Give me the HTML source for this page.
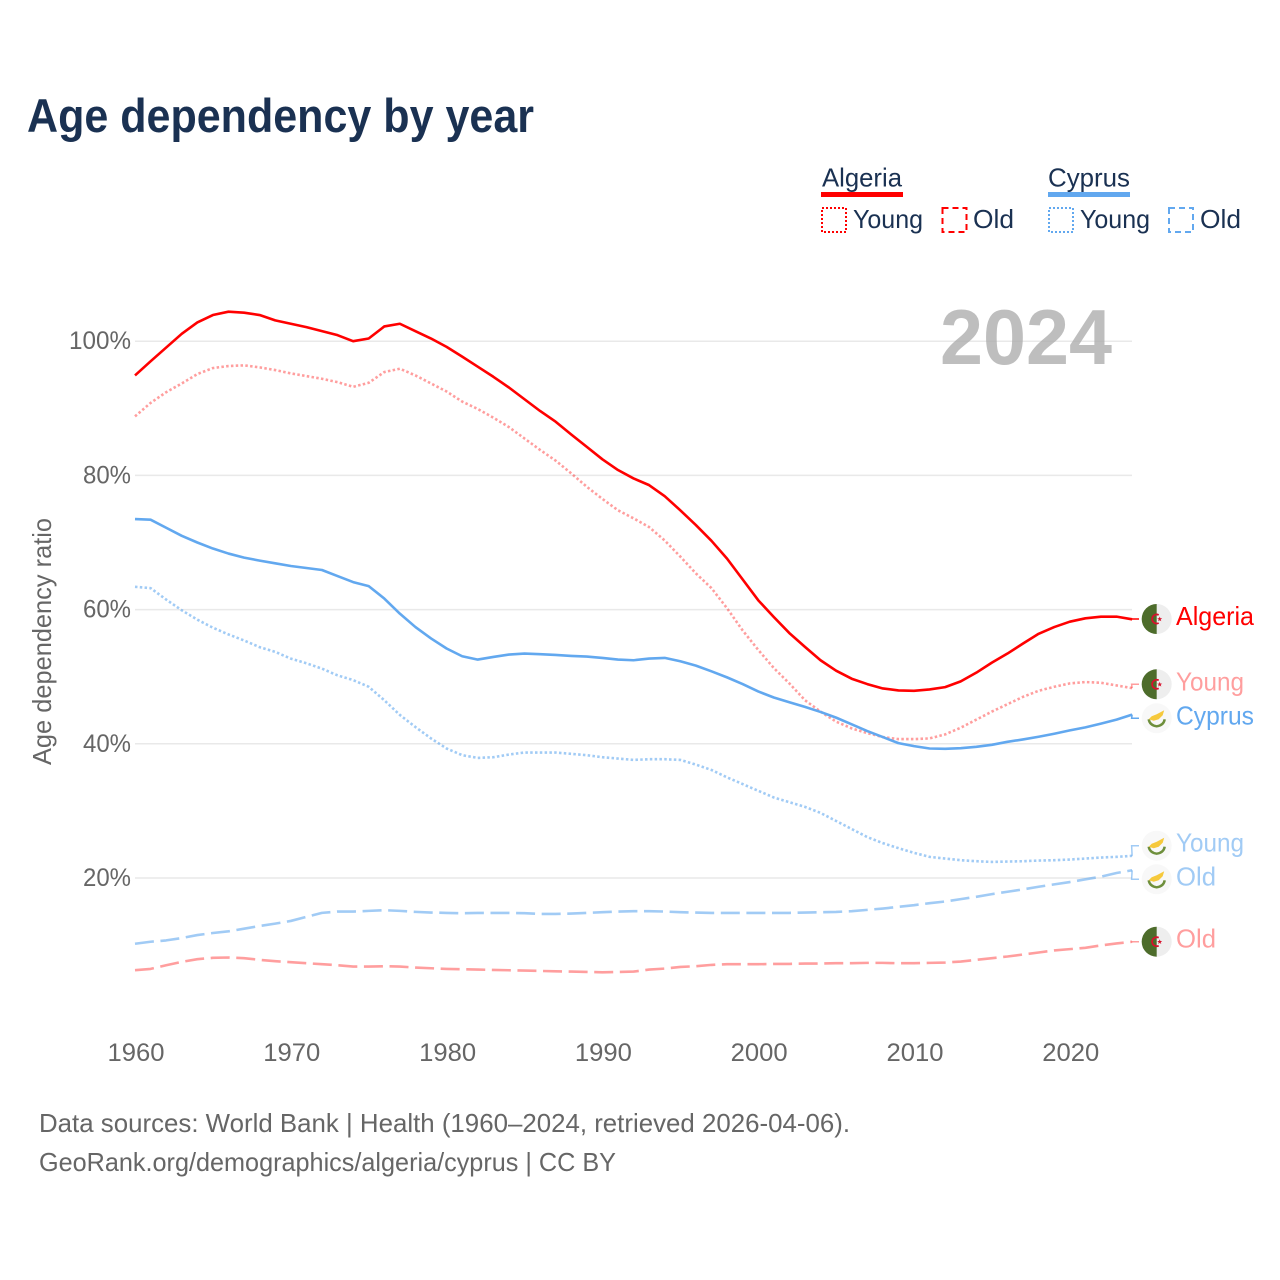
<!DOCTYPE html>
<html lang="en">
<head>
<meta charset="utf-8">
<title>Age dependency by year</title>
<style>
html,body{margin:0;padding:0;background:#fff;}
svg{display:block;}
text{font-family:"Liberation Sans",sans-serif;}
</style>
</head>
<body>
<svg id="chart" xmlns="http://www.w3.org/2000/svg" width="1280" height="1280" viewBox="0 0 1280 1280">
  <rect x="0" y="0" width="1280" height="1280" fill="#fff"/>
  <text x="27" y="132" font-size="47" font-weight="bold" fill="#1a3152" textLength="507" lengthAdjust="spacingAndGlyphs">Age dependency by year</text>

  <g font-size="26" fill="#1a3152">
    <text x="822" y="186.500" textLength="80" lengthAdjust="spacingAndGlyphs">Algeria</text>
    <rect x="821" y="192" width="82" height="5" fill="#ff0000"/>
    <rect x="822" y="208" width="24" height="24" fill="none" stroke="#ff0000" stroke-width="2" stroke-dasharray="2 2"/>
    <text x="853" y="228" textLength="70" lengthAdjust="spacingAndGlyphs">Young</text>
    <rect x="942.500" y="208" width="24" height="24" fill="none" stroke="#ff0000" stroke-width="2" stroke-dasharray="6 4"/>
    <text x="973" y="228" textLength="41" lengthAdjust="spacingAndGlyphs">Old</text>
    <text x="1048" y="186.500" textLength="82" lengthAdjust="spacingAndGlyphs">Cyprus</text>
    <rect x="1048" y="192" width="82" height="5" fill="#62a8ef"/>
    <rect x="1049" y="208" width="24" height="24" fill="none" stroke="#62a8ef" stroke-width="2" stroke-dasharray="2 2"/>
    <text x="1080" y="228" textLength="70" lengthAdjust="spacingAndGlyphs">Young</text>
    <rect x="1169" y="208" width="24" height="24" fill="none" stroke="#62a8ef" stroke-width="2" stroke-dasharray="6 4"/>
    <text x="1200" y="228" textLength="41" lengthAdjust="spacingAndGlyphs">Old</text>
  </g>

  <g id="grid"></g>
  <text x="940" y="364" font-size="78" font-weight="bold" fill="#a8a8a8" fill-opacity="0.75" textLength="172" lengthAdjust="spacingAndGlyphs">2024</text>
  <g id="yticks" font-size="25" fill="#666"></g>
  <g id="xticks" font-size="25" fill="#666"></g>
  <text transform="translate(51 641.500) rotate(-90)" text-anchor="middle" font-size="26" fill="#666" textLength="247" lengthAdjust="spacingAndGlyphs">Age dependency ratio</text>
  <g id="series" fill="none" stroke-width="2.600" stroke-linejoin="round"></g>
  <g id="ends" font-size="26"></g>

  <g font-size="26" fill="#666">
    <text x="39" y="1132" textLength="811" lengthAdjust="spacingAndGlyphs">Data sources: World Bank | Health (1960–2024, retrieved 2026-04-06).</text>
    <text x="39" y="1171" textLength="577" lengthAdjust="spacingAndGlyphs">GeoRank.org/demographics/algeria/cyprus | CC BY</text>
  </g>
</svg>
<script>
const startYear = 1960;
const xTickLabels = [1960, 1970, 1980, 1990, 2000, 2010, 2020];
const yTickLabels = [20, 40, 60, 80, 100];
const algeriaTotal = [94.9,97,99.05,101.1,102.8,103.9,104.4,104.25,103.9,103.1,102.6,102.1,101.5,100.9,100,100.4,102.2,102.6,101.5,100.4,99.15,97.7,96.2,94.7,93.1,91.35,89.6,88,86.1,84.25,82.4,80.8,79.55,78.55,76.9,74.8,72.6,70.25,67.6,64.5,61.4,58.9,56.5,54.45,52.45,50.9,49.7,48.9,48.25,47.95,47.9,48.1,48.45,49.3,50.6,52.1,53.45,54.95,56.4,57.4,58.2,58.7,58.95,58.95,58.55];
const algeriaYoung = [88.8,90.8,92.4,93.7,95.1,96,96.3,96.4,96.1,95.7,95.2,94.8,94.4,93.9,93.2,93.8,95.4,95.9,94.9,93.7,92.5,91,89.9,88.6,87.2,85.5,83.8,82.2,80.3,78.3,76.5,74.8,73.6,72.3,70.3,67.9,65.4,63.2,60.2,56.9,54,51.3,49,46.5,44.8,43.3,42.3,41.6,41,40.7,40.7,40.8,41.4,42.4,43.6,44.8,45.9,47,47.9,48.5,49,49.2,49.1,48.7,48.3];
const algeriaOld = [6.26,6.45,7,7.5,7.9,8.1,8.15,8.05,7.8,7.6,7.45,7.3,7.15,7,6.8,6.8,6.85,6.8,6.65,6.55,6.45,6.4,6.35,6.3,6.25,6.2,6.15,6.1,6.05,6,5.95,6,6.05,6.35,6.5,6.75,6.85,7.05,7.15,7.15,7.15,7.2,7.2,7.25,7.25,7.3,7.3,7.35,7.35,7.3,7.3,7.35,7.4,7.55,7.8,8.05,8.3,8.6,8.9,9.2,9.4,9.6,9.95,10.25,10.5];
const cyprusTotal = [73.5,73.4,72.2,71,70,69.1,68.35,67.75,67.3,66.9,66.5,66.2,65.9,65,64.1,63.5,61.65,59.4,57.4,55.7,54.2,53.05,52.55,52.95,53.3,53.45,53.35,53.25,53.1,53,52.8,52.55,52.45,52.7,52.8,52.3,51.65,50.8,49.9,48.9,47.8,46.9,46.2,45.5,44.75,43.9,42.9,41.9,41,40.1,39.65,39.3,39.25,39.35,39.55,39.85,40.3,40.65,41.05,41.5,42,42.45,43,43.6,44.35];
const cyprusYoung = [63.4,63.2,61.5,59.9,58.5,57.3,56.3,55.4,54.4,53.7,52.7,52,51.2,50.2,49.5,48.5,46.5,44.3,42.5,40.8,39.3,38.3,37.9,38,38.4,38.7,38.7,38.7,38.5,38.3,38,37.8,37.6,37.7,37.7,37.6,36.9,36.1,35,34,33,32,31.3,30.6,29.7,28.5,27.3,26.1,25.2,24.45,23.75,23.15,22.9,22.65,22.5,22.4,22.45,22.5,22.6,22.65,22.75,22.9,23.05,23.15,23.3];
const cyprusOld = [10.2,10.5,10.7,11.05,11.5,11.8,12.05,12.45,12.85,13.2,13.6,14.2,14.8,15,15,15.1,15.2,15.1,14.95,14.85,14.8,14.75,14.8,14.8,14.8,14.75,14.65,14.65,14.7,14.8,14.9,15,15.05,15.05,15,14.9,14.85,14.8,14.8,14.8,14.8,14.8,14.8,14.85,14.9,14.95,15.05,15.25,15.45,15.7,15.95,16.25,16.5,16.85,17.2,17.6,17.95,18.3,18.7,19.05,19.4,19.8,20.2,20.75,21.15];

const NS = 'http://www.w3.org/2000/svg';
const xScale = year => 135 + (year - startYear) * 15.58;
const yScale = value => 1012.2 - value * 6.71;

function make(tag, parent) {
  const el = document.createElementNS(NS, tag);
  parent.appendChild(el);
  return el;
}

const gridLayer = document.getElementById('grid');
const yTickLayer = document.getElementById('yticks');
const xTickLayer = document.getElementById('xticks');
const seriesLayer = document.getElementById('series');
const endLayer = document.getElementById('ends');

yTickLabels.forEach(value => {
  const line = make('line', gridLayer);
  
  
  line.setAttribute('x1', 135);
  line.setAttribute('x2', 1132);
  line.setAttribute('y1', yScale(value));
  line.setAttribute('y2', yScale(value));
  line.setAttribute('stroke', '#e9e9e9');
  line.setAttribute('stroke-width', 1.5);
  const label = make('text', yTickLayer);
  
  
  label.setAttribute('x', 131);
  label.setAttribute('y', yScale(value) + 8);
  label.setAttribute('text-anchor', 'end');
  label.setAttribute('textLength', value === 100 ? 62 : 48);
  label.setAttribute('lengthAdjust', 'spacingAndGlyphs');
  label.textContent = value + '%';
});

xTickLabels.forEach(year => {
  const label = make('text', xTickLayer);
  
  
  label.setAttribute('x', xScale(year) + 1);
  label.setAttribute('y', 1061);
  label.setAttribute('text-anchor', 'middle');
  label.setAttribute('textLength', 57);
  label.setAttribute('lengthAdjust', 'spacingAndGlyphs');
  label.textContent = year;
});

function linePath(values) {
  return values.map((v, i) => (i ? 'L' : 'M') + xScale(startYear + i).toFixed(2) + ' ' + yScale(v).toFixed(2)).join(' ');
}

function drawLine(values, color, dash, opacity, name) {
  const path = make('path', seriesLayer);
  
  
  path.setAttribute('d', linePath(values));
  path.setAttribute('stroke', color);
  path.setAttribute('stroke-opacity', opacity);
  if (dash) path.setAttribute('stroke-dasharray', dash);
}

const RED = '#ff0000';
const BLUE = '#62a8ef';
const DOT = '2.5 2.3';
const DASH = '19 6.6';
drawLine(cyprusOld, BLUE, DASH, 0.6, 'cyprus-old-line');
drawLine(algeriaOld, RED, DASH, 0.38, 'algeria-old-line');
drawLine(cyprusYoung, BLUE, DOT, 0.6, 'cyprus-young-line');
drawLine(algeriaYoung, RED, DOT, 0.38, 'algeria-young-line');
drawLine(cyprusTotal, BLUE, '', 1, 'cyprus-total-line');
drawLine(algeriaTotal, RED, '', 1, 'algeria-total-line');

function algeriaFlag(parent, cx, cy) {
  const g = make('g', parent);
  
  
  g.setAttribute('transform', 'translate(' + cx + ' ' + cy + ')');
  const base = make('circle', g);
  base.setAttribute('r', 15);
  base.setAttribute('fill', '#eeeeee');
  const left = make('path', g);
  left.setAttribute('d', 'M0 -15 A15 15 0 0 0 0 15 Z');
  left.setAttribute('fill', '#4d6c2b');
  const crescent = make('path', g);
  crescent.setAttribute('d', 'M2 -4 A4.500 4.500 0 1 0 2 4');
  crescent.setAttribute('fill', 'none');
  crescent.setAttribute('stroke', '#d8102c');
  crescent.setAttribute('stroke-width', 1.8);
  const star = make('path', g);
  star.setAttribute('d', 'M3 -2.500 L3.700 -0.700 L5.500 -0.700 L4 0.500 L4.600 2.300 L3 1.200 L1.400 2.300 L2 0.500 L0.500 -0.700 L2.300 -0.700 Z');
  star.setAttribute('fill', '#d8102c');
}

function cyprusFlag(parent, cx, cy) {
  const g = make('g', parent);
  
  
  g.setAttribute('transform', 'translate(' + cx + ' ' + cy + ')');
  const base = make('circle', g);
  base.setAttribute('r', 15);
  base.setAttribute('fill', '#f8f8f8');
  const branch = make('path', g);
  branch.setAttribute('d', 'M-8 1 Q-7 7 0 8 Q7 7 8 1');
  branch.setAttribute('fill', 'none');
  branch.setAttribute('stroke', '#6e8f3c');
  branch.setAttribute('stroke-width', 2.5);
  const island = make('path', g);
  island.setAttribute('d', 'M-8 1 L-5 -2 L0 -4 L7.500 -8 L6 -3 L2 1 L-3 2.500 Z');
  island.setAttribute('fill', '#f6c93c');
}

function endLabel(values, labelY, text, textWidth, color, opacity, flag, dash, name) {
  const endX = xScale(startYear + values.length - 1);
  const endY = yScale(values[values.length - 1]);
  const connector = make('path', endLayer);
  
  
  connector.setAttribute('d', 'M' + endX.toFixed(2) + ' ' + endY.toFixed(2) + ' L' + (endX - 0.5).toFixed(2) + ' ' + labelY + ' L1139 ' + labelY);
  connector.setAttribute('fill', 'none');
  connector.setAttribute('stroke', color);
  connector.setAttribute('stroke-opacity', opacity);
  connector.setAttribute('stroke-width', 1.5);
  flag(endLayer, 1156.7, labelY);
  const label = make('text', endLayer);
  
  
  label.setAttribute('x', 1176);
  label.setAttribute('y', labelY + 6);
  label.setAttribute('fill', color);
  label.setAttribute('fill-opacity', opacity);
  label.setAttribute('textLength', textWidth);
  label.setAttribute('lengthAdjust', 'spacingAndGlyphs');
  label.textContent = text;
}

endLabel(algeriaTotal, 619, 'Algeria', 78, RED, 1, algeriaFlag, '', 'algeria-total');
endLabel(algeriaYoung, 684.3, 'Young', 68, RED, 0.38, algeriaFlag, DOT, 'algeria-young');
endLabel(cyprusTotal, 718.3, 'Cyprus', 78, BLUE, 1, cyprusFlag, '', 'cyprus-total');
endLabel(cyprusYoung, 845.7, 'Young', 68, BLUE, 0.6, cyprusFlag, DOT, 'cyprus-young');
endLabel(cyprusOld, 879.3, 'Old', 40, BLUE, 0.6, cyprusFlag, DASH, 'cyprus-old');
endLabel(algeriaOld, 941.7, 'Old', 40, RED, 0.38, algeriaFlag, DASH, 'algeria-old');
</script>
</body>
</html>
